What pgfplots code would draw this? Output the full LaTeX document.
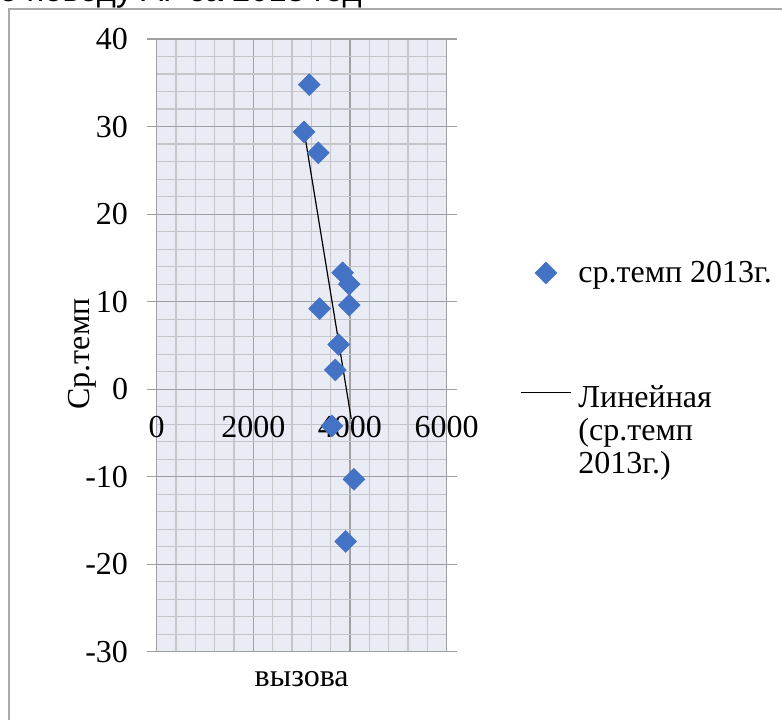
\documentclass[border=0pt]{standalone}
\usepackage{fontspec}
\setmainfont{Liberation Serif}
\newfontfamily\titlefont{Liberation Sans}
\usepackage{pgfplots}
\pgfplotsset{compat=1.18}
\usepackage{pgfplotstable}
\definecolor{bgcol}{RGB}{233,235,245}
\definecolor{mingrid}{RGB}{198,198,202}
\definecolor{majgrid}{RGB}{160,160,164}
\definecolor{mkcol}{RGB}{68,114,196}
\definecolor{bordercol}{RGB}{170,170,170}
\pgfplotsset{
  legscatter/.style={legend image code/.code={\draw[mark repeat=2,mark phase=2,##1] plot coordinates {(0pt,0pt) (18.75pt,0pt) (37.5pt,0pt)};}},
  legline/.style={legend image code/.code={\draw[##1] (0pt,28.5pt) -- (37.5pt,28.5pt);}},
}
\pgfplotstableread{
x y
3157 34.8
3048 29.4
3344 27.0
3848 13.3
3985 12.0
3372 9.2
3985 9.6
3765 5.1
3696 2.2
3627 -4.2
4082 -10.3
3910 -17.4
}\temps
\pgfplotstableread{
x y
3048 29.58
4026 -3.40
}\trend
\begin{document}
\begin{tikzpicture}[x=1pt,y=1pt,font=\fontsize{24}{25}\selectfont]
\useasboundingbox (0,0) rectangle (586.5,540);
\clip (0,0) rectangle (586.5,540);
\node[anchor=base east, inner sep=0pt, font=\titlefont\fontsize{24.5}{27}\selectfont] at (271.5,538.6) {Количество вызовов по поводу АГ за 2013 год};
\draw[bordercol, line width=1pt] (6.75,-5) -- (6.75,533.25) -- (600,533.25);
\begin{axis}[
  at={(117.5pt,51.2pt)}, anchor=south west,
  scale only axis, width=217.5pt, height=459.5pt,
  xmin=0, xmax=6000, ymin=-30, ymax=40,
  xtick={0,2000,4000,6000}, ytick={-30,-20,...,40},
  minor x tick num=4, minor y tick num=4,
  grid=both,
  major grid style={draw=majgrid, line width=0.9pt},
  minor grid style={draw=mingrid, line width=0.9pt},
  axis background/.style={fill=bgcol},
  axis line style={draw=majgrid, line width=0.9pt},
  tick align=outside,
  major tick length=7.5pt, minor tick length=0pt,
  xtick style={draw=none},
  ytick style={draw=majgrid, line width=0.9pt},
  /pgf/number format/assume math mode=true,
  /pgf/number format/set thousands separator={},
  tick label style={font=\fontsize{24}{25}\selectfont, inner sep=0pt},
  xticklabel style={anchor=center, yshift=176.1pt},
  yticklabel style={anchor=east, xshift=-13.8pt},
  xlabel={вызова}, ylabel={Ср.темп},
  label style={font=\fontsize{24}{25}\selectfont},
  xlabel style={at={(rel axis cs:0.5,0)}, anchor=center, yshift=-20.5pt},
  ylabel style={at={(rel axis cs:0,0.486)}, anchor=center, yshift=56pt},
  legend cell align=left,
  legend style={draw=none, fill=none, inner sep=0pt,
    at={(rel axis cs:1.253,0.6377)}, anchor=north west,
    font=\fontsize{24}{24.5}\selectfont,
    nodes={inner sep=0pt, align=left},
    column sep=5.25pt, row sep=76pt},
]
\addplot[only marks, mark=square*, mark size=5.8pt, mark options={rotate=45, fill=mkcol, draw=mkcol}, legscatter]
  table[x=x,y=y] {\temps};
\addlegendentry{ср.темп 2013г.}
\addplot[black, line width=0.9pt, no marks, legline]
  table[x=x,y=y] {\trend};
\addlegendentry{Линейная\\(ср.темп\\2013г.)}
\end{axis}
\end{tikzpicture}
\end{document}
